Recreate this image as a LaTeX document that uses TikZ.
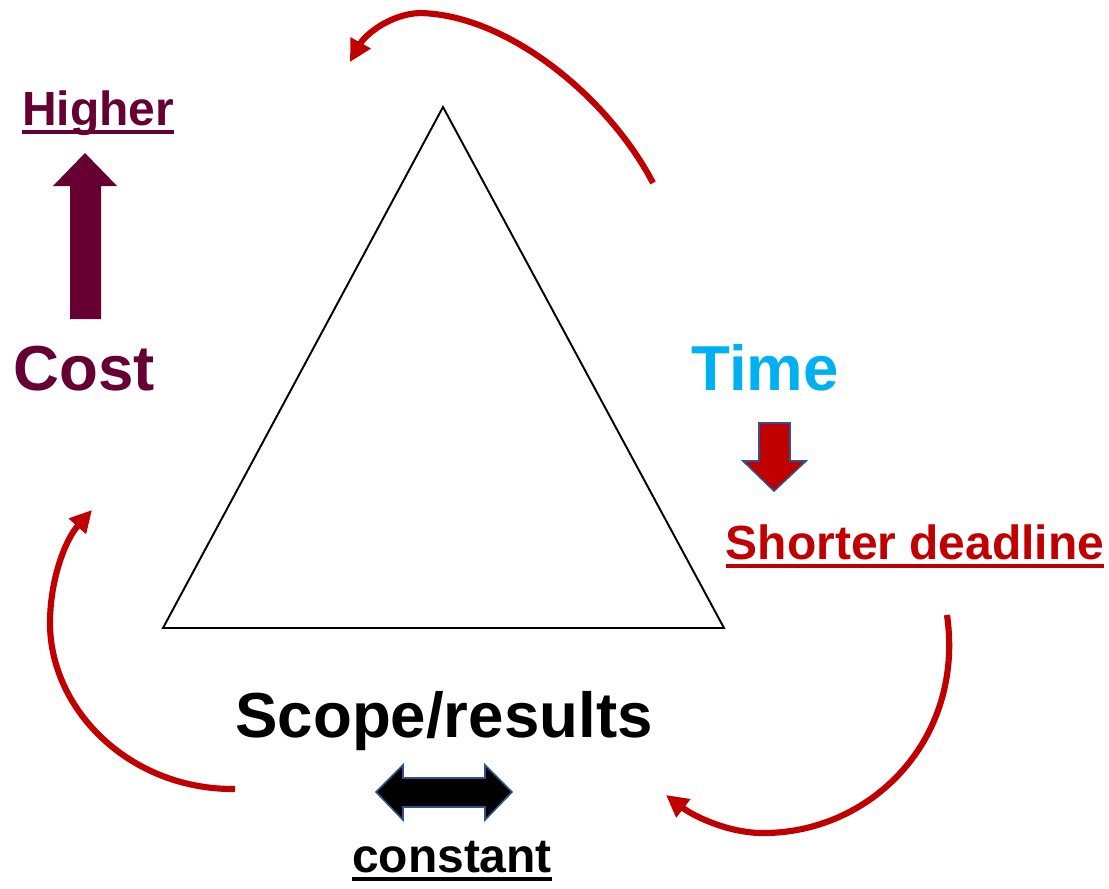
\documentclass[tikz,border=0pt]{standalone}
\usepackage{fontspec}
\setmainfont{Liberation Sans}
\usetikzlibrary{arrows.meta}

\definecolor{costcol}{HTML}{660033}
\definecolor{timecol}{HTML}{00B0F0}
\definecolor{redcol}{HTML}{C00000}
\definecolor{edgeblue}{HTML}{2F528F}

% text with a thick underline drawn below its baseline
\newsavebox{\ulbox}
\newcommand{\thickul}[1]{\sbox{\ulbox}{#1}\rlap{\rule[-5.1pt]{\wd\ulbox}{2.2pt}}\usebox{\ulbox}}

\begin{document}
\begin{tikzpicture}[x=0.02cm,y=-0.02cm,
  big/.style={font=\fontsize{36.2}{40}\selectfont\bfseries, inner sep=0pt, anchor=base},
  small/.style={font=\fontsize{27.3}{31}\selectfont\bfseries, inner sep=0pt, anchor=base},
  cycle/.style={draw=redcol, line width=3.5pt,
    -{Triangle[length=12.5pt,width=12.5pt]}},
  blockarrow/.style={line width=0.9pt, line join=miter}]

\useasboundingbox (0,0) rectangle (1109,889);

% triangle
\coordinate (apex) at (443,107);
\coordinate (bl) at (163,628);
\coordinate (br) at (724,628);
\draw[line width=1.1pt, line join=miter] (apex) -- (bl) -- (br) -- cycle;

% labels
\node[big, text=costcol] (cost) at (84,390) {Cost};
\node[big, text=timecol] (time) at (765,390) {Time};
\node[big, text=black] (scope) at (444,737) {Scope/results};
\node[small, text=costcol] (higher) at (98,125) {\thickul{Higher}};
\node[small, text=redcol] (deadline) at (915,559) {\thickul{Shorter deadline}};
\node[small, text=black] (constant) at (452,872) {\thickul{constant}};

% cost goes up
\fill[costcol] (70,319) -- (70,186) -- (53,186) -- (85,153) -- (117,186)
  -- (101,186) -- (101,319) -- cycle;

% time goes down
\draw[blockarrow, fill=redcol, draw=edgeblue] (759,423) -- (790,423) -- (790,461)
  -- (806,461) -- (774,491) -- (743,461) -- (759,461) -- cycle;

% scope stays constant
\draw[blockarrow, fill=black, draw=edgeblue] (376,792) -- (403,765) -- (403,778)
  -- (485,778) -- (485,765) -- (512,792) -- (485,820) -- (485,807)
  -- (403,807) -- (403,820) -- cycle;

% cycle arrows around the triangle
\coordinate (t1) at (653,183);
\coordinate (t2) at (420,13);
\coordinate (t3) at (350,62);
\draw[cycle] (t1) .. controls (610,100) and (510,15) .. (t2)
  .. controls (390,14) and (365,35) .. (t3);

\coordinate (l1) at (235,789);
\coordinate (l2) at (50,623);
\coordinate (l3) at (92,510);
\draw[cycle] (l1) .. controls (130,790) and (50,710) .. (l2)
  .. controls (50,580) and (65,540) .. (l3);

\coordinate (r1) at (947,615);
\coordinate (r2) at (760,833);
\coordinate (r3) at (666,795);
\draw[cycle] (r1) .. controls (965,740) and (870,835) .. (r2)
  .. controls (725,832) and (692,815) .. (r3);

\end{tikzpicture}
\end{document}
